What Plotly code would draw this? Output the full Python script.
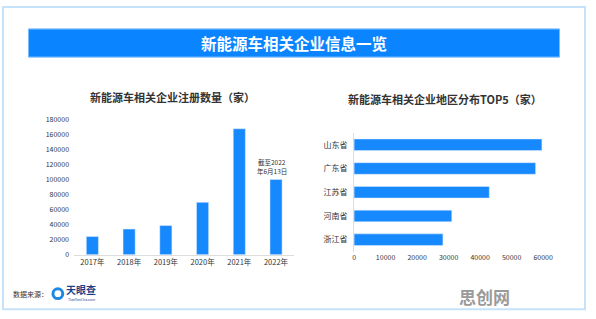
import plotly.graph_objects as go

years = ["2017年", "2018年", "2019年", "2020年", "2021年", "2022年"]
registrations = [24200, 34200, 38900, 69900, 168300, 100600]

provinces = ["山东省", "广东省", "江苏省", "河南省", "浙江省"]
province_counts = [59600, 57600, 42900, 31000, 28200]

W, H = 596, 319
FONT = "Noto Sans CJK SC"
BAR = "#1789FF"
TXT = "#333333"

def px(x):
    return x / W

def py(y):
    return 1 - y / H

fig = go.Figure()
fig.add_trace(go.Bar(x=years, y=registrations, marker_color=BAR, width=0.33,
                     xaxis="x", yaxis="y", showlegend=False))
fig.add_trace(go.Bar(x=province_counts, y=provinces, orientation="h", marker_color=BAR,
                     width=0.49, xaxis="x2", yaxis="y2", showlegend=False))

fig.update_layout(
    width=W, height=H, margin=dict(l=0, r=0, t=0, b=0),
    paper_bgcolor="white", plot_bgcolor="white",
    font=dict(family=FONT, color=TXT),
    xaxis=dict(domain=[px(73.5), px(298.4)], showgrid=False, showline=True,
               linecolor="#dddddd", linewidth=1, ticks="", tickfont=dict(size=7.5, color=TXT),
               fixedrange=True),
    yaxis=dict(domain=[py(256.7), py(117.7)], range=[0, 180000], dtick=20000,
               tickformat="d", showgrid=False, zeroline=False, showline=False,
               tickfont=dict(size=7, color=TXT), ticklabelstandoff=4),
    xaxis2=dict(domain=[px(359.3), px(552.3)], range=[0, 60000], dtick=10000,
                tickformat="d", showgrid=False, zeroline=False, showline=False,
                tickfont=dict(size=7, color=TXT), anchor="y2"),
    yaxis2=dict(domain=[py(253.5), py(131)], autorange="reversed", showgrid=False,
                showline=True, linecolor="#dddddd", linewidth=1, anchor="x2",
                tickfont=dict(size=8, color=TXT), ticklabelstandoff=4),
)

shapes = [
    dict(type="rect", xref="paper", yref="paper", x0=px(1), x1=px(595), y0=py(313), y1=py(1),
         line=dict(color="#C6E2FA", width=2), fillcolor="rgba(0,0,0,0)", layer="below"),
    dict(type="rect", xref="paper", yref="paper", x0=px(27), x1=px(569), y0=py(53), y1=py(23.5),
         line=dict(width=0), fillcolor="#0A85FF", layer="below"),
    dict(type="line", xref="paper", yref="paper", x0=px(27), x1=px(569), y0=py(24), y1=py(24),
         line=dict(color="#5AAEFF", width=1)),
    dict(type="line", xref="paper", yref="paper", x0=px(27), x1=px(569), y0=py(52.5), y1=py(52.5),
         line=dict(color="#5AAEFF", width=1)),
    # logo swirl
    dict(type="circle", xref="paper", yref="paper", x0=px(52), x1=px(62), y0=py(302), y1=py(292),
         line=dict(color="#1E88E5", width=3), fillcolor="rgba(0,0,0,0)"),
]
fig.update_layout(shapes=shapes)

ann = [
    dict(text="<b>新能源车相关企业信息一览</b>", x=px(298), y=py(38.5), font=dict(size=15.5, color="white")),
    dict(text="<b>新能源车相关企业注册数量（家）</b>", x=px(174), y=py(93.5), font=dict(size=11, color=TXT)),
    dict(text="<b>新能源车相关企业地区分布TOP5（家）</b>", x=px(452), y=py(96), font=dict(size=11, color=TXT)),
    dict(text="截至2022", x=px(276), y=py(161.5), font=dict(size=6.5, color=TXT)),
    dict(text="年6月13日", x=px(276), y=py(170), font=dict(size=6.5, color=TXT)),
    dict(text="数据来源：", x=px(29), y=py(297), font=dict(size=7, color=TXT)),
    dict(text="<b>天眼查</b>", x=px(81), y=py(293), font=dict(size=10, color="#1B3F86")),
    dict(text="TianYanCha.com", x=px(81), y=py(303.5), font=dict(size=3.5, color="#1B3F86")),
    dict(text="<b>思创网</b>", x=px(492), y=py(300), font=dict(size=17, color="#9A9A9A")),
]
for a in ann:
    a.update(xref="paper", yref="paper", showarrow=False, xanchor="center", yanchor="middle")
fig.update_layout(annotations=ann)

fig.write_html("out.html")
